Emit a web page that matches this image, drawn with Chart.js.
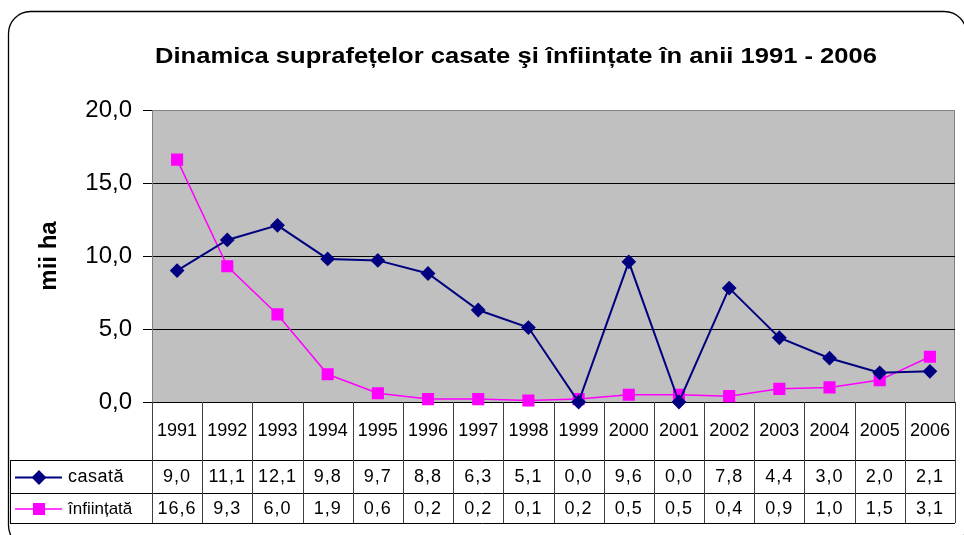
<!DOCTYPE html>
<html>
<head>
<meta charset="utf-8">
<script src="https://cdn.jsdelivr.net/npm/chart.js@4.4.0/dist/chart.umd.min.js"></script>
<style>
  html, body { margin: 0; padding: 0; background: #fff; overflow: hidden; }
  #wrap { width: 964px; height: 535px; }
</style>
</head>
<body>
<div id="wrap"><canvas id="chart" width="964" height="535"></canvas></div>
<script>
// data
const years = ['1991', '1992', '1993', '1994', '1995', '1996', '1997', '1998',
               '1999', '2000', '2001', '2002', '2003', '2004', '2005', '2006'];
const casata = [9.0, 11.1, 12.1, 9.8, 9.7, 8.8, 6.3, 5.1, 0.0, 9.6, 0.0, 7.8, 4.4, 3.0, 2.0, 2.1];
const infiintata = [16.6, 9.3, 6.0, 1.9, 0.6, 0.2, 0.2, 0.1, 0.2, 0.5, 0.5, 0.4, 0.9, 1.0, 1.5, 3.1];
const seriesNames = ['casată', 'înființată'];
const yTicks = [0, 5, 10, 15, 20];
const chartTitle = 'Dinamica suprafețelor casate şi înființate în anii 1991 - 2006';
const yTitle = 'mii ha';

const FONT = '"Liberation Sans", Arial, sans-serif';
const fmt = v => v.toFixed(1).replace('.', ',');

// frame, grey plot area and title
const backgroundPlugin = {
  id: 'background',
  beforeDraw(chart) {
    const { ctx, chartArea: a } = chart;
    ctx.save();
    ctx.fillStyle = '#fff';
    ctx.fillRect(0, 0, chart.width, chart.height);

    ctx.beginPath();
    ctx.roundRect(8.5, 11.5, 958, 536, 22);
    ctx.lineWidth = 1.3;
    ctx.strokeStyle = '#000';
    ctx.stroke();

    ctx.fillStyle = '#c0c0c0';
    ctx.fillRect(a.left, a.top, a.right - a.left, a.bottom - a.top);
    ctx.lineWidth = 1;
    ctx.strokeStyle = '#808080';
    ctx.strokeRect(a.left + 0.5, a.top + 0.5, a.right - a.left - 1, a.bottom - a.top);

    // title squeezed/stretched to the width it has in the original
    ctx.font = 'bold 22px ' + FONT;
    const w = ctx.measureText(chartTitle).width;
    ctx.translate(516, 63);
    ctx.scale(722 / w, 1);
    ctx.textAlign = 'center';
    ctx.fillStyle = '#000';
    ctx.fillText(chartTitle, 0, 0);
    ctx.restore();
  }
};

// data table below the plot (years + values + legend keys)
const tablePlugin = {
  id: 'dataTable',
  beforeDatasetsDraw(chart) {
    const { ctx, chartArea: a, scales: { x } } = chart;
    const half = (x.getPixelForValue(1) - x.getPixelForValue(0)) / 2;
    const rows = [a.bottom, 460, 493, 523];
    const left = 10;

    ctx.save();
    ctx.lineWidth = 1;
    ctx.strokeStyle = '#000';
    ctx.beginPath();
    ctx.moveTo(a.left, rows[0] + 0.5); ctx.lineTo(a.right, rows[0] + 0.5);
    for (let r = 1; r < rows.length; r++) {
      ctx.moveTo(left, rows[r] + 0.5); ctx.lineTo(a.right, rows[r] + 0.5);
    }
    ctx.moveTo(left + 0.5, rows[1]); ctx.lineTo(left + 0.5, rows[3]);
    ctx.stroke();

    ctx.strokeStyle = '#404040';
    ctx.beginPath();
    for (let i = 0; i <= years.length; i++) {
      const xx = Math.round(x.getPixelForValue(i) - half) + 0.5;
      ctx.moveTo(xx, rows[0]); ctx.lineTo(xx, rows[3]);
    }
    ctx.stroke();

    ctx.fillStyle = '#000';
    ctx.textAlign = 'center';
    ctx.textBaseline = 'middle';
    ctx.font = '18px ' + FONT;
    const yMid = [(rows[0] + rows[1]) / 2, (rows[1] + rows[2]) / 2 + 1, (rows[2] + rows[3]) / 2 + 1];
    years.forEach((yr, i) => ctx.fillText(yr, x.getPixelForValue(i), yMid[0]));
    ctx.letterSpacing = '1px';
    casata.forEach((v, i) => ctx.fillText(fmt(v), x.getPixelForValue(i), yMid[1]));
    infiintata.forEach((v, i) => ctx.fillText(fmt(v), x.getPixelForValue(i), yMid[2]));

    // legend keys
    chart.data.datasets.forEach((ds, k) => {
      const cy = yMid[k + 1];
      ctx.strokeStyle = ds.borderColor;
      ctx.lineWidth = ds.borderWidth;
      ctx.beginPath();
      ctx.moveTo(15, cy); ctx.lineTo(62, cy);
      ctx.stroke();
      Chart.helpers.drawPoint(ctx, { pointStyle: ds.pointStyle, radius: ds.pointRadius, borderWidth: 1 }, 39, cy);
      ctx.fillStyle = ds.pointBackgroundColor;
      ctx.fill();
      ctx.fillStyle = '#000';
      ctx.textAlign = 'left';
      ctx.letterSpacing = k === 0 ? '0.5px' : '0px';
      ctx.font = (k === 0 ? '18px ' : '17px ') + FONT;
      ctx.fillText(ds.label, 68, cy);
    });
    ctx.restore();
  }
};

new Chart(document.getElementById('chart'), {
  type: 'line',
  data: {
    labels: years,
    datasets: [
      {
        label: seriesNames[0],
        data: casata,
        borderColor: '#000080',
        backgroundColor: '#000080',
        pointBackgroundColor: '#000080',
        pointBorderColor: '#000080',
        borderWidth: 2,
        pointStyle: 'rectRot',
        pointRadius: 6,
        clip: false
      },
      {
        label: seriesNames[1],
        data: infiintata,
        borderColor: '#ff00ff',
        backgroundColor: '#ff00ff',
        pointBackgroundColor: '#ff00ff',
        pointBorderColor: '#ff00ff',
        borderWidth: 1.5,
        pointStyle: 'rect',
        pointRadius: 7.5,
        clip: false
      }
    ]
  },
  options: {
    responsive: false,
    animation: false,
    layout: { padding: { top: 110, bottom: 133, right: 7, left: 0 } },
    plugins: {
      legend: { display: false },
      title: { display: false },
      tooltip: { enabled: false }
    },
    elements: { line: { tension: 0 } },
    scales: {
      x: { display: false, offset: true },
      y: {
        min: 0,
        max: 20,
        afterBuildTicks: scale => { scale.ticks = yTicks.map(v => ({ value: v })); },
        afterFit: scale => { scale.width = 152; },
        ticks: {
          callback: v => fmt(v),
          color: '#000',
          padding: 11,
          font: { family: FONT, size: 24 }
        },
        grid: {
          color: c => (c.tick.value === 20 ? '#808080' : '#000'),
          tickColor: '#000',
          tickLength: 9,
          lineWidth: 1
        },
        border: { display: true, color: '#808080' },
        title: {
          display: true,
          text: yTitle,
          color: '#000',
          padding: { top: 35, bottom: 0 },
          font: { family: FONT, size: 24, weight: 'bold' }
        }
      }
    }
  },
  plugins: [backgroundPlugin, tablePlugin]
});
</script>
</body>
</html>
